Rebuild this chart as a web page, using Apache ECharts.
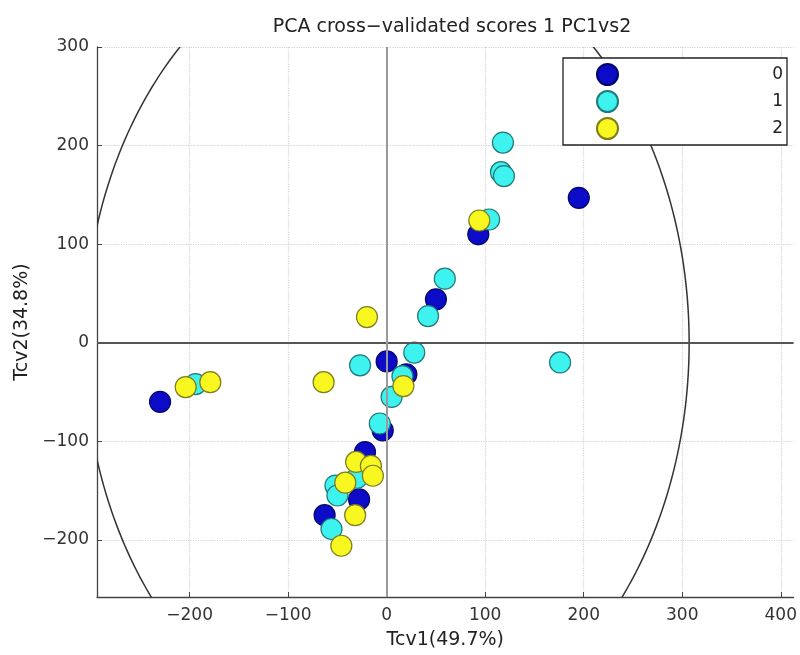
<!DOCTYPE html>
<html>
<head>
<meta charset="utf-8">
<script src="https://cdn.jsdelivr.net/npm/echarts@6/dist/echarts.min.js"></script>
<style>
  html, body { margin: 0; padding: 0; background: #fff; }
  #chart { width: 800px; height: 655px; }
</style>
</head>
<body>
<div id="chart"></div>
<script>
// Cross-validated PCA scores (Tcv1 vs Tcv2), one array per class
const class0 = [
  [-230, -60], [0, -19], [195, 147], [93, 110], [50, 44],
  [20, -32], [-4, -89], [-63, -175], [-28, -159], [-22, -111]
];
const class1 = [
  [-194, -42], [-27, -23], [28, -10], [42, 27], [59, 65],
  [16, -34], [5, -55], [-7, -82], [118, 203], [116, 173],
  [119, 169], [104, 125], [176, -20], [-56, -189], [-52, -145],
  [-50, -155], [-30, -137]
];
const class2 = [
  [-204, -45], [-179, -40], [-64, -40], [-20, 26], [17, -44],
  [94, 124], [-31, -121], [-16, -125], [-14, -135], [-42, -142],
  [-32, -175], [-46, -206]
];
const classNames = ['0', '1', '2'];

// Hotelling T2 ellipse semi-axes (Tcv1, Tcv2)
const ellipseAxes = [[307, 411]];

// Tick values and axis ranges
const xTicks = [-200, -100, 0, 100, 200, 300, 400];
const yTicks = [-200, -100, 0, 100, 200, 300];
const xRange = [-294, 413];
const yRange = [-258, 300];

const FONT = 'DejaVu Sans';
const fill = ['#0b0bc8', '#3ef2f0', '#f8f820'];
const edge = ['#05056a', '#1f7a78', '#7d7d1e'];
const minus = v => String(v).replace('-', '\u2212');

const chart = echarts.init(document.getElementById('chart'), null, { renderer: 'canvas' });

function scatter(idx, data) {
  return {
    type: 'scatter',
    name: classNames[idx],
    data: data,
    symbol: 'circle',
    symbolSize: 21,
    z: 3,
    itemStyle: { color: fill[idx], borderColor: edge[idx], borderWidth: 1.2, opacity: 1 },
    emphasis: { disabled: true }
  };
}

const option = {
  animation: false,
  backgroundColor: '#fff',
  title: {
    text: 'PCA cross\u2212validated scores 1 PC1vs2',
    left: 447,
    top: 13,
    textAlign: 'center',
    textStyle: { fontFamily: FONT, fontSize: 19, fontWeight: 'normal', color: '#222' }
  },
  grid: { left: 97, right: 5, top: 47, bottom: 57 },
  xAxis: {
    type: 'value',
    min: xRange[0], max: xRange[1],
    name: 'Tcv1(49.7%)',
    nameLocation: 'middle',
    nameGap: 34,
    nameTextStyle: { fontFamily: FONT, fontSize: 19, color: '#222' },
    axisLine: { onZero: false, lineStyle: { color: '#444', width: 1.3 } },
    axisTick: { inside: true, length: 5, customValues: xTicks, lineStyle: { color: '#444' } },
    axisLabel: { customValues: xTicks, margin: 10, fontFamily: FONT, fontSize: 17, color: '#333', formatter: minus },
    splitLine: { show: true, lineStyle: { color: '#d2d2d2', type: 'dotted', width: 1.2 } }
  },
  yAxis: {
    type: 'value',
    min: yRange[0], max: yRange[1],
    name: 'Tcv2(34.8%)',
    nameLocation: 'middle',
    nameGap: 64,
    nameTextStyle: { fontFamily: FONT, fontSize: 19, color: '#222' },
    axisLine: { onZero: false, lineStyle: { color: '#444', width: 1.3 } },
    axisTick: { inside: true, length: 5, customValues: yTicks, lineStyle: { color: '#444' } },
    axisLabel: { customValues: yTicks, margin: 8, fontFamily: FONT, fontSize: 17, color: '#333', formatter: minus },
    splitLine: { show: true, lineStyle: { color: '#d2d2d2', type: 'dotted', width: 1.2 } }
  },
  legend: {
    data: classNames,
    orient: 'vertical',
    left: 563,
    top: 58,
    padding: [5, 4, 5, 33],
    itemWidth: 21,
    itemHeight: 21,
    itemGap: 4,
    icon: 'circle',
    borderColor: '#222',
    borderWidth: 1.3,
    backgroundColor: '#fff',
    selectedMode: false,
    formatter: name => '{n|' + name + '}',
    textStyle: {
      rich: { n: { width: 160, height: 21, lineHeight: 21, align: 'right', fontFamily: FONT, fontSize: 17, color: '#222' } }
    }
  },
  series: [
    {
      type: 'custom',
      name: 'ellipse',
      silent: true,
      clip: true,
      z: 1,
      data: ellipseAxes,
      renderItem: function (params, api) {
        const a = api.value(0), b = api.value(1);
        const pts = [];
        for (let i = 0; i <= 360; i++) {
          const t = i * Math.PI / 180;
          pts.push(api.coord([a * Math.cos(t), b * Math.sin(t)]));
        }
        return {
          type: 'polyline',
          shape: { points: pts },
          style: { stroke: '#333', fill: null, lineWidth: 1.5 }
        };
      },
      markLine: {
        silent: true,
        symbol: 'none',
        label: { show: false },
        data: [
          { yAxis: 0, lineStyle: { color: '#555', width: 1.8, type: 'solid' } },
          { xAxis: 0, lineStyle: { color: '#9a9a9a', width: 2, type: 'solid' } }
        ]
      }
    },
    scatter(0, class0),
    scatter(1, class1),
    scatter(2, class2)
  ]
};

chart.setOption(option);
</script>
</body>
</html>
